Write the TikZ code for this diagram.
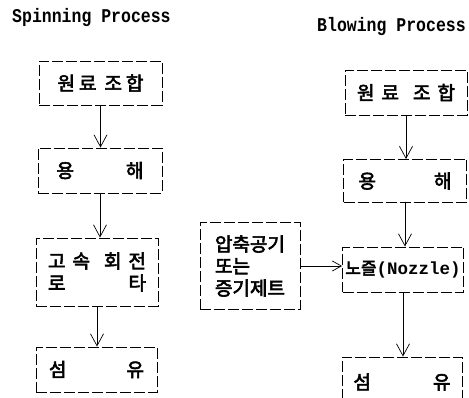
\documentclass[tikz,border=0pt]{standalone}
\usepackage{fontspec}
\usetikzlibrary{arrows.meta}
\newfontfamily\kr[FakeBold=3]{Noto Sans CJK KR}
\newfontfamily\mono{Liberation Mono}
\tikzset{
  pbox/.style={draw, line width=0.9pt, dash pattern=on 11pt off 3pt, inner sep=0pt,
    font=\kr\fontsize{19}{22}\selectfont},
  arr/.style={line width=0.7pt, -{Straight Barb[length=12pt,width=13pt]}},
  harr/.style={line width=0.7pt, -{Straight Barb[length=9pt,width=10pt]}},
  ttl/.style={anchor=base west, inner sep=0pt, font=\mono\bfseries\fontsize{16.5}{18}\selectfont}
}
\begin{document}
\begin{tikzpicture}[x=1pt,y=-1pt]
\useasboundingbox (0,0) rectangle (469,398);
\clip (0,0) rectangle (469,398);
% titles
\node[ttl] (t1) at (12,22.5) {\scalebox{1}[1.18]{Spinning Process}};
\node[ttl] (t2) at (317,31.5) {\scalebox{1}[1.18]{Blowing Process}};
% left column
\node[pbox, minimum width=123pt, minimum height=44pt] (a1) at (100.5,83)
  {\hbox to 86pt{원\hfill 료\hfill\hfill 조\hfill 합}};
\node[pbox, minimum width=124pt, minimum height=45pt] (a2) at (100,170.5)
  {\hbox to 87pt{용\hfill 해}};
\node[pbox, minimum width=122pt, minimum height=68pt, align=left] (a3) at (97,272)
  {\hbox to 98pt{고\hfill 속\hfill\hfill 회\hfill 전}\\ \hbox to 98pt{로\hfill 타}};
\node[pbox, minimum width=121pt, minimum height=45pt] (a4) at (96.5,369.5)
  {\hbox to 95pt{섬\hfill 유}};
% right column
\node[pbox, minimum width=122pt, minimum height=45pt] (b1) at (406,92.5)
  {\hbox to 98pt{원\hfill 료\hfill\hfill 조\hfill 합}};
\node[pbox, minimum width=123pt, minimum height=43pt] (b2) at (405,181)
  {\hbox to 93pt{용\hfill 해}};
\node[pbox, minimum width=121pt, minimum height=45pt] (b3) at (403,269.5)
  {{\fontsize{17}{20}\selectfont 노즐}{\mono\bfseries\fontsize{17.5}{20}\selectfont(Nozzle)}};
\node[pbox, minimum width=120pt, minimum height=50pt] (b4) at (402,382)
  {\hbox to 97pt{섬\hfill 유}};
% side box
\node[pbox, minimum width=100pt, minimum height=87pt, align=left] (c) at (250,266)
  {압축공기\\ 또는\\ 증기제트};
% arrows
\draw[arr] (a1.south) -- (a1.south |- a2.north);
\draw[arr] (a2.south) -- (a2.south |- a3.north);
\draw[arr] (a3.south) -- (a3.south |- a4.north);
\draw[arr] (b1.south) -- (b1.south |- b2.north);
\draw[arr] (b2.south) -- (b2.south |- b3.north);
\draw[arr] (b3.south) -- (b3.south |- b4.north);
\draw[harr] (c.east) -- (c.east -| b3.west);
\end{tikzpicture}
\end{document}
